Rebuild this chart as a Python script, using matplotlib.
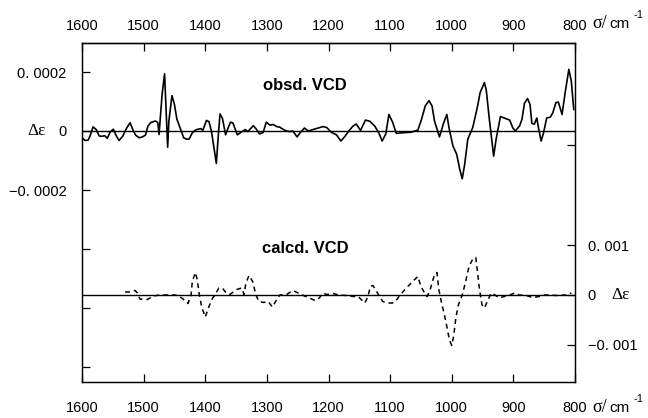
import numpy as np
import matplotlib
matplotlib.use("Agg")
import matplotlib.pyplot as plt

# ---- data: observed VCD (units of 1e-4) ----
obs_wn = [1599, 1595, 1590, 1587, 1582, 1577, 1572, 1568, 1563, 1559, 1554, 1549, 1545, 1540,
          1534, 1528, 1522, 1517, 1513, 1507, 1502, 1497, 1493, 1488, 1481, 1477, 1475, 1470,
          1466, 1461, 1459, 1454, 1450, 1446, 1441, 1435, 1430, 1426, 1421, 1416, 1412, 1407,
          1404, 1398, 1394, 1390, 1386, 1382, 1379, 1376, 1372, 1367, 1363, 1359, 1355, 1348,
          1341, 1335, 1331, 1322, 1317, 1312, 1306, 1301, 1295, 1290, 1284, 1279, 1274, 1268,
          1263, 1258, 1251, 1246, 1239, 1233, 1225, 1217, 1209, 1203, 1195, 1187, 1180, 1174,
          1167, 1161, 1155, 1148, 1140, 1133, 1125, 1118, 1113, 1107, 1102, 1096, 1090, 1080,
          1066, 1055, 1049, 1043, 1037, 1032, 1028, 1020, 1013, 1008, 1004, 998, 992, 987,
          983, 979, 974, 966, 958, 954, 947, 944, 939, 932, 928, 921, 912, 906, 901, 897,
          890, 886, 882, 877, 873, 870, 866, 862, 859, 855, 851, 846, 840, 836, 831, 827,
          821, 816, 810, 806, 802]
obs_val = [-0.25, -0.32, -0.31, -0.17, 0.14, 0.05, -0.17, -0.18, -0.16, -0.25, -0.02, 0.06, -0.14, -0.32,
           -0.18, 0.08, 0.28, 0.02, -0.14, -0.23, -0.20, -0.14, 0.17, 0.29, 0.34, 0.29, -0.12, 1.24,
           1.94, -0.55, 0.34, 1.20, 0.90, 0.40, 0.11, -0.23, -0.28, -0.27, -0.06, 0.03, 0.06, 0.08,
           0.02, 0.36, 0.32, 0.0, -0.55, -1.10, -0.20, 0.58, 0.42, -0.13, 0.10, 0.30, 0.27, -0.13,
           -0.03, 0.05, -0.02, 0.18, 0.06, -0.10, -0.05, 0.30, 0.20, 0.22, 0.15, 0.13, 0.06, 0.0,
           -0.02, 0.0, -0.20, -0.06, 0.10, 0.0, 0.05, 0.10, 0.15, 0.12, -0.05, -0.13, -0.34, -0.20,
           0.0, 0.15, 0.24, 0.02, 0.37, 0.33, 0.17, -0.08, -0.34, -0.10, 0.56, 0.30, -0.08, -0.06,
           -0.04, 0.03, 0.40, 0.85, 1.03, 0.85, 0.34, -0.20, 0.28, 0.56, 0.06, -0.51, -0.79, -1.30,
           -1.62, -1.13, -0.28, 0.11, 0.85, 1.30, 1.64, 1.39, 0.40, -0.85, -0.28, 0.49, 0.42, 0.37, 0.11, 0.0,
           0.17, 0.40, 0.94, 1.10, 0.90, 0.26, 0.23, 0.44, 0.08, -0.34, -0.06, 0.44, 0.47, 0.62, 0.96, 0.98,
           0.56, 1.30, 2.09, 1.69, 0.73]

# ---- data: calculated VCD (units of 1e-3) ----
calc_wn = [1530, 1522, 1514, 1510, 1506, 1500, 1494, 1484, 1474, 1452, 1444, 1436, 1428, 1423,
           1421, 1416, 1413, 1410, 1406, 1400, 1394, 1388, 1384, 1378, 1371, 1366, 1360, 1349,
           1341, 1337, 1334, 1329, 1323, 1318, 1313, 1305, 1298, 1291, 1284, 1279, 1268, 1258,
           1251, 1244, 1237, 1229, 1222, 1215, 1209, 1203, 1193, 1182, 1171, 1160, 1152, 1141,
           1136, 1132, 1128, 1124, 1118, 1112, 1104, 1096, 1089, 1084, 1075, 1066, 1055, 1050,
           1044, 1040, 1035, 1028, 1024, 1021, 1017, 1012, 1008, 1004, 1000, 997, 993, 989,
           983, 978, 972, 966, 961, 958, 955, 951, 947, 943, 936, 931, 923, 915, 906, 898,
           890, 879, 869, 858, 850, 842, 831, 814, 806]
calc_val = [0.06, 0.06, 0.09, 0.04, -0.08, -0.09, -0.09, -0.02, 0.0, 0.0, -0.01, -0.08, -0.17, 0.0,
            0.27, 0.45, 0.31, 0.04, -0.23, -0.44, -0.23, -0.06, 0.0, 0.14, 0.12, 0.04, 0.01, 0.11,
            0.14, 0.01, 0.24, 0.39, 0.27, 0.01, -0.13, -0.15, -0.13, -0.24, -0.09, 0.0, 0.01, 0.09,
            0.05, 0.01, -0.03, -0.07, -0.11, -0.06, 0.04, 0.01, 0.03, 0.0, -0.01, -0.03, -0.03, -0.16,
            -0.03, 0.17, 0.19, 0.11, -0.01, -0.13, -0.16, -0.16, -0.09, 0.0, 0.12, 0.24, 0.37, 0.17,
            0.04, -0.03, 0.11, 0.41, 0.45, 0.11, -0.13, -0.39, -0.63, -0.89, -1.01, -0.83, -0.43, -0.19,
            0.0, 0.24, 0.57, 0.72, 0.75, 0.44, 0.11, -0.19, -0.26, -0.15, 0.04, 0.01, -0.06, -0.03, 0.0, 0.04,
            0.0, -0.01, -0.05, -0.03, 0.0, 0.0, -0.01, 0.0, 0.04]

x_ticks = [1600, 1500, 1400, 1300, 1200, 1100, 1000, 900, 800]
left_ticks = [0.0002, 0.0, -0.0002, -0.0004, -0.0006, -0.0008]
left_labels = ["0. 0002", "0", "\u22120. 0002", "", "", ""]
right_ticks = [0.001, 0.0, -0.001, 0.003]
right_labels = ["0. 001", "0", "\u22120. 001", ""]

SANS = ["Liberation Sans", "DejaVu Sans"]
SERIF = ["Liberation Serif", "DejaVu Serif"]
FS = 10.5

fig = plt.figure(figsize=(6.48, 4.18), dpi=100)
ax = fig.add_axes([82/648, 1-382/418, 493/648, 339/418])
ax2 = ax.twinx()

ax.set_xlim(1600, 800)
ax.set_ylim(-(382-131)/59*0.0002, (131-43)/59*0.0002)
ax2.set_ylim(-(382-295)/50*0.001, (295-43)/50*0.001)

obs = np.array(obs_val) * 1e-4
calc = np.array(calc_val) * 1e-3

ax.plot(obs_wn, obs, color="black", lw=1.2, solid_joinstyle="round")
ax.axhline(0, color="black", lw=1.0)
ax2.plot(calc_wn, calc, color="black", lw=1.1, linestyle=(0, (3.2, 2.6)))
ax2.axhline(0, color="black", lw=1.0)

for a in (ax, ax2):
    for s in a.spines.values():
        s.set_linewidth(0.9)

ax.set_xticks(x_ticks)
ax.set_xticklabels([str(t) for t in x_ticks], family=SANS, fontsize=FS)
ax.tick_params(axis="x", direction="in", length=6, width=0.9, top=False, bottom=True,
               labeltop=False, labelbottom=True, pad=14)
sec = ax.secondary_xaxis("top")
sec.set_xticks(x_ticks)
sec.set_xticklabels([str(t) for t in x_ticks], family=SANS, fontsize=FS)
sec.tick_params(axis="x", direction="in", length=6, width=0.9, pad=7.5)
sec.spines["top"].set_linewidth(0.9)

ax.set_yticks(left_ticks)
ax.set_yticklabels(left_labels, family=SANS, fontsize=FS)
ax.tick_params(axis="y", direction="in", length=6, width=0.9, pad=11)
ax2.set_yticks(right_ticks)
ax2.set_yticklabels(right_labels, family=SANS, fontsize=FS)
ax2.tick_params(axis="y", direction="in", length=6, width=0.9, pad=9)

# unit labels
for ypix in (24, 408):
    fig.text(592/648, 1-ypix/418, "\u03c3/", family=SERIF, fontsize=13, va="center", ha="left")
    fig.text(609/648, 1-ypix/418, "cm", family=SANS, fontsize=11, va="center", ha="left")
    fig.text(634/648, 1-(ypix-9)/418, "-1", family=SANS, fontsize=8, va="center", ha="left")

fig.text(37/648, 1-131/418, "\u0394\u03b5", family=SERIF, fontsize=12.5, va="center", ha="center")
fig.text(621/648, 1-295/418, "\u0394\u03b5", family=SERIF, fontsize=12.5, va="center", ha="center")

ax.text(0.452, 0.876, "obsd. VCD", transform=ax.transAxes, ha="center", va="center",
        family=SANS, fontweight="bold", fontsize=12)
ax.text(0.452, 0.395, "calcd. VCD", transform=ax.transAxes, ha="center", va="center",
        family=SANS, fontweight="bold", fontsize=12)

fig.savefig("out.png", dpi=100)
